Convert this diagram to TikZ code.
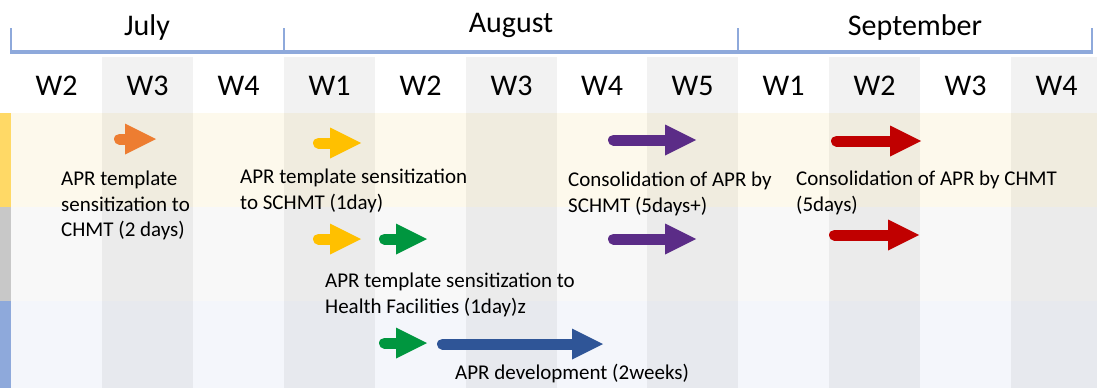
\documentclass[tikz,border=0pt]{standalone}
\usepackage{fontspec}
\setmainfont{Carlito}
\usetikzlibrary{arrows.meta}

\definecolor{lineblue}{HTML}{8EA9DB}
\definecolor{baryellow}{HTML}{FFD966}
\definecolor{bargray}{HTML}{C8C8C8}
\definecolor{rowyellow}{HTML}{FDF9EC}
\definecolor{rowgray}{HTML}{F8F8F8}
\definecolor{rowblue}{HTML}{F4F6FB}
\definecolor{aprorange}{HTML}{ED7D31}
\definecolor{apryellow}{HTML}{FFC000}
\definecolor{aprgreen}{HTML}{00963F}
\definecolor{aprblue}{HTML}{2F5597}
\definecolor{aprpurple}{HTML}{5B2C87}
\definecolor{aprred}{HTML}{C00000}

\tikzset{
  month/.style={font=\fontsize{30}{36}\selectfont, anchor=base},
  week/.style={font=\fontsize{30}{36}\selectfont, anchor=base},
  task/.style={font=\fontsize{21}{25.5}\selectfont, align=left, anchor=north west, inner sep=0pt},
  shade/.style={fill=black, opacity=0.05},
  blockarrow/.style={line width=11pt, line cap=round,
    -{Triangle[length=31pt, width=31pt, line width=0pt]}}
}

\begin{document}
\begin{tikzpicture}[x=1pt, y=-1pt]
      \useasboundingbox (0,0) rectangle (1097,388);
      % rows
      \fill[rowyellow] (11,113) rectangle (1097,207);
      \fill[rowgray] (11,207) rectangle (1097,301);
      \fill[rowblue] (11,301) rectangle (1097,388);
      \fill[baryellow] (0,113) rectangle (11,207);
      \fill[bargray] (0,207) rectangle (11,301);
      \fill[lineblue] (0,301) rectangle (11,388);
      % shaded weeks
      \fill[shade] (102,57) rectangle (193,388);
      \fill[shade] (284,57) rectangle (375,388);
      \fill[shade] (466,57) rectangle (557,388);
      \fill[shade] (647,57) rectangle (738,388);
      \fill[shade] (829,57) rectangle (920,388);
      \fill[shade] (1011,57) rectangle (1097,388);
      % months
      \draw[lineblue, line width=3.5pt] (10,52) -- (1093,52);
      \draw[lineblue, line width=2pt] (11,28) -- (11,52);
      \draw[lineblue, line width=2pt] (284,28) -- (284,52);
      \draw[lineblue, line width=2pt] (738,28) -- (738,52);
      \draw[lineblue, line width=2pt] (1092,28) -- (1092,52);
      \node[month] (jul) at (147,35) {July};
      \node[month] (aug) at (511,32) {August};
      \node[month] (sep) at (915,35) {September};
      % weeks
      \node[week] (julw2) at (56.5,95) {W2};
      \node[week] (julw3) at (147.5,95) {W3};
      \node[week] (julw4) at (238.5,95) {W4};
      \node[week] (augw1) at (329.5,95) {W1};
      \node[week] (augw2) at (420.5,95) {W2};
      \node[week] (augw3) at (511.5,95) {W3};
      \node[week] (augw4) at (602,95) {W4};
      \node[week] (augw5) at (692.5,95) {W5};
      \node[week] (sepw1) at (783.5,95) {W1};
      \node[week] (sepw2) at (874.5,95) {W2};
      \node[week] (sepw3) at (965.5,95) {W3};
      \node[week] (sepw4) at (1056.5,95) {W4};
      % arrows
      \draw[blockarrow, aprorange] (119.5,139) -- (156,139);
      \draw[blockarrow, apryellow] (318.5,143) -- (361,143);
      \draw[blockarrow, apryellow] (318.5,239) -- (361,239);
      \draw[blockarrow, aprgreen] (384.5,239) -- (427,239);
      \draw[blockarrow, aprgreen] (384.5,343) -- (427,343);
      \draw[blockarrow, aprblue] (442.5,344) -- (603,344);
      \draw[blockarrow, aprpurple] (613.5,140) -- (696,140);
      \draw[blockarrow, aprpurple] (613.5,239) -- (696,239);
      \draw[blockarrow, aprred] (836.5,141) -- (921,141);
      \draw[blockarrow, aprred] (834.5,235) -- (919,235);
      % tasks
      \node[task] (chmt) at (61,171) {APR template\\sensitization to\\CHMT (2 days)};
      \node[task] (schmt) at (240,169) {APR template sensitization\\to SCHMT (1day)};
      \node[task] (hf) at (325,273) {APR template sensitization to\\Health Facilities (1day)z};
      \node[task] (consschmt) at (568,172) {Consolidation of APR by\\SCHMT (5days+)};
      \node[task] (conschmt) at (796,171) {Consolidation of APR by CHMT\\(5days)};
      \node[task, anchor=base west] (dev) at (455,379) {APR development (2weeks)};
   \end{tikzpicture}
\end{document}
